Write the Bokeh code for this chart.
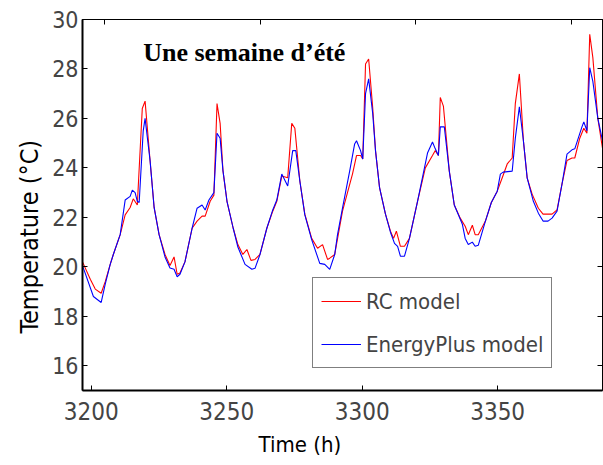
from bokeh.plotting import figure
from bokeh.models import Range1d, LinearAxis, FixedTicker, Label, Legend, LegendItem, CustomJSTickFormatter, Title
from bokeh.embed import file_html
from bokeh.resources import INLINE

# ---- data ----
rc_hours = [3192.9, 3195.4, 3197.0, 3198.9, 3200.2, 3201.8, 3202.8, 3205.0, 3206.6, 3208.2, 3209.2, 3210.5,
            3212.1, 3213.0, 3214.6, 3215.9, 3217.5, 3219.4, 3221.0, 3222.3, 3223.3, 3224.2, 3225.8, 3228.1,
            3229.7, 3231.3, 3232.3, 3233.9, 3235.1, 3236.1, 3237.1, 3238.0, 3239.3, 3241.3, 3242.8, 3244.4,
            3245.7, 3247.0, 3248.3, 3249.9, 3252.1, 3254.0, 3255.3, 3256.9, 3258.8, 3260.1, 3261.1, 3262.7,
            3264.3, 3266.5, 3268.4, 3270.0, 3271.6, 3272.3, 3273.9, 3276.4, 3279.6, 3280.9, 3282.2, 3282.9,
            3283.8, 3284.8, 3286.1, 3287.0, 3288.3, 3290.2, 3291.8, 3292.8, 3293.7, 3295.0, 3296.3, 3297.9,
            3300.5, 3303.0, 3305.3, 3306.2, 3307.2, 3307.8, 3308.8, 3310.7, 3312.3, 3314.2, 3315.8, 3316.8,
            3318.1, 3319.0, 3320.0, 3322.3, 3324.2, 3326.1, 3327.7, 3329.3, 3330.9, 3331.9, 3333.2, 3334.5,
            3335.7, 3337.3, 3339.3, 3340.8, 3342.4, 3343.7, 3345.3, 3346.9, 3348.5, 3350.1, 3351.0, 3352.6,
            3353.9, 3354.9, 3355.8, 3356.8, 3358.4, 3359.9]
rc_temp = [20.2, 19.5, 19.1, 18.93, 19.4, 20.1, 20.5, 21.3, 22.1, 22.4, 22.75, 22.5,
           26.4, 26.7, 24.3, 22.4, 21.3, 20.5, 20.05, 20.4, 19.7, 19.75, 20.2, 21.56,
           21.85, 22.05, 22.05, 22.65, 22.9, 26.6, 25.8, 23.9, 22.65, 21.56, 20.9, 20.5,
           20.7, 20.26, 20.3, 20.5, 21.56, 22.25, 22.65, 23.67, 23.6, 25.8, 25.6, 23.47,
           22.13, 21.15, 20.75, 20.9, 20.3, 20.35, 20.5, 22.25, 23.75, 24.5, 24.5, 24.36,
           28.2, 28.4, 26.43, 24.7, 23.2, 22.13, 21.44, 21.15, 21.44, 20.83, 20.83, 21.15,
           22.65, 24.0, 24.5, 24.7, 24.5, 26.85, 26.5, 23.87, 22.5, 21.97, 21.64, 21.3,
           21.68, 21.3, 21.3, 21.85, 22.6, 23.06, 23.6, 24.16, 24.4, 26.6, 27.8, 25.1,
           23.6, 22.94, 22.37, 22.13, 22.13, 22.13, 22.3, 23.35, 24.3, 24.4, 24.4, 25.2,
           25.6, 25.4, 29.4, 28.46, 26.0, 24.8]

ep_hours = [3192.9, 3196.4, 3198.9, 3200.2, 3201.8, 3202.8, 3205.0, 3206.6, 3208.2, 3208.9, 3209.8, 3210.5,
            3211.1, 3212.4, 3213.0, 3214.6, 3215.9, 3217.5, 3219.4, 3221.0, 3222.3, 3223.3, 3224.2, 3225.8,
            3228.1, 3229.7, 3231.3, 3232.3, 3233.5, 3235.1, 3236.1, 3237.1, 3238.0, 3239.3, 3241.3, 3242.8,
            3245.1, 3247.3, 3248.3, 3249.9, 3252.1, 3254.0, 3255.3, 3256.9, 3258.8, 3260.4, 3261.4, 3262.7,
            3264.3, 3266.5, 3269.1, 3270.7, 3272.3, 3273.9, 3274.8, 3276.4, 3278.7, 3280.3, 3280.9, 3282.2,
            3282.9, 3283.8, 3284.8, 3286.1, 3287.0, 3288.3, 3290.2, 3291.8, 3293.1, 3294.1, 3295.0, 3296.3,
            3297.9, 3300.5, 3303.7, 3305.3, 3306.2, 3307.2, 3307.8, 3309.1, 3310.7, 3312.3, 3314.9, 3315.8,
            3316.8, 3318.1, 3319.0, 3320.0, 3322.3, 3324.2, 3326.1, 3327.1, 3328.0, 3330.9, 3331.9, 3333.2,
            3334.5, 3335.7, 3337.7, 3339.3, 3340.8, 3342.4, 3343.7, 3345.3, 3346.9, 3348.5, 3350.1, 3351.0,
            3353.3, 3353.9, 3354.9, 3355.8, 3356.8, 3358.4, 3359.9]
ep_temp = [20.05, 18.8, 18.56, 19.3, 20.1, 20.5, 21.3, 22.7, 22.85, 23.1, 23.0, 22.65,
           22.6, 25.5, 26.0, 24.3, 22.4, 21.3, 20.4, 19.95, 19.9, 19.6, 19.7, 20.2,
           21.56, 22.37, 22.5, 22.3, 22.7, 23.0, 25.4, 25.2, 23.9, 22.65, 21.56, 20.8,
           20.1, 19.9, 19.94, 20.5, 21.56, 22.3, 22.7, 23.75, 23.27, 24.7, 24.7, 23.47,
           22.1, 21.1, 20.14, 20.1, 19.9, 20.5, 21.3, 22.37, 23.87, 24.97, 25.1, 24.7,
           24.36, 27.0, 27.6, 26.2, 24.7, 23.2, 22.13, 21.4, 20.95, 20.83, 20.43, 20.43,
           21.15, 22.65, 24.6, 25.05, 24.77, 24.5, 25.66, 25.66, 23.87, 22.5, 21.72, 21.15,
           20.9, 21.0, 20.83, 20.87, 21.85, 22.6, 23.06, 23.75, 23.83, 23.87, 25.2, 26.47,
           25.1, 23.6, 22.65, 22.17, 21.85, 21.85, 21.97, 22.25, 23.35, 24.56, 24.73, 24.77,
           25.66, 25.86, 25.5, 28.05, 27.5, 26.0, 25.1]

x_ticks = [3200, 3250, 3300, 3350]
y_ticks = [16, 18, 20, 22, 24, 26, 28, 30]
series_names = ["RC model", "EnergyPlus model"]
title_text = "Une semaine d\u2019\u00e9t\u00e9"
x_label = "Time (h)"
y_label = "Temperature (\u00b0C)"

NARROW = "DejaVu Sans Condensed"

p = figure(width=603, height=465, x_range=Range1d(3192.9, 3359.9), y_range=Range1d(15, 30),
           output_backend="svg", toolbar_location=None,
           x_axis_location=None, y_axis_location=None,
           min_border_left=82, min_border_right=1, min_border_top=19, min_border_bottom=75)
p.grid.visible = False
p.outline_line_color = "black"
p.outline_line_width = 1
p.background_fill_color = "white"
p.border_fill_color = "white"

p.extra_x_ranges = {"bottom": Range1d(3196.8, 3388.7)}

blank = CustomJSTickFormatter(code="return ''")

def style(ax):
    ax.major_tick_in = 5
    ax.major_tick_out = 0
    ax.minor_tick_in = 0
    ax.minor_tick_out = 0
    ax.axis_line_color = "black"
    ax.major_tick_line_color = "black"

bottom = LinearAxis(x_range_name="bottom", ticker=FixedTicker(ticks=x_ticks))
style(bottom)
bottom.axis_line_width = 2
bottom.major_label_text_font = NARROW
bottom.major_label_text_font_size = "24px"
bottom.major_label_standoff = 11
p.add_layout(bottom, "below")

top = LinearAxis(ticker=FixedTicker(ticks=x_ticks), formatter=blank, major_label_standoff=0)
style(top)
p.add_layout(top, "above")

left = LinearAxis(ticker=FixedTicker(ticks=y_ticks))
style(left)
left.axis_line_width = 2
left.major_label_text_font = NARROW
left.major_label_text_font_size = "23px"
left.major_label_standoff = 4
p.add_layout(left, "left")

right = LinearAxis(ticker=FixedTicker(ticks=y_ticks), formatter=blank, major_label_standoff=0)
style(right)
p.add_layout(right, "right")

# axis titles, placed off-centre as in the reference
p.add_layout(Title(text=x_label, align="left", offset=176, standoff=14,
                   text_font=NARROW, text_font_size="22px", text_font_style="normal",
                   text_color="black"), "below")
p.add_layout(Title(text=y_label, align="left", offset=57, standoff=12,
                   text_font=NARROW, text_font_size="25px", text_font_style="normal",
                   text_color="black"), "left")

r_rc = p.line(rc_hours, rc_temp, line_color="#ff0000", line_width=1.1)
r_ep = p.line(ep_hours, ep_temp, line_color="#0000ff", line_width=1.1)

legend = Legend(items=[LegendItem(label=series_names[0], renderers=[r_rc]),
                       LegendItem(label=series_names[1], renderers=[r_ep])],
                location=(230, 22), margin=0, padding=8, spacing=13,
                glyph_width=40, glyph_height=30, label_height=30, label_standoff=5,
                label_text_font=NARROW, label_text_font_size="22px",
                border_line_color="black", border_line_width=1.5,
                background_fill_alpha=1.0)
p.add_layout(legend)

p.add_layout(Label(x=3212.4, y=28.65, text=title_text, text_font="Liberation Serif",
                   text_font_style="bold", text_font_size="26px", text_color="black",
                   text_baseline="alphabetic"))

open("out.html", "w").write(file_html(p, INLINE))
